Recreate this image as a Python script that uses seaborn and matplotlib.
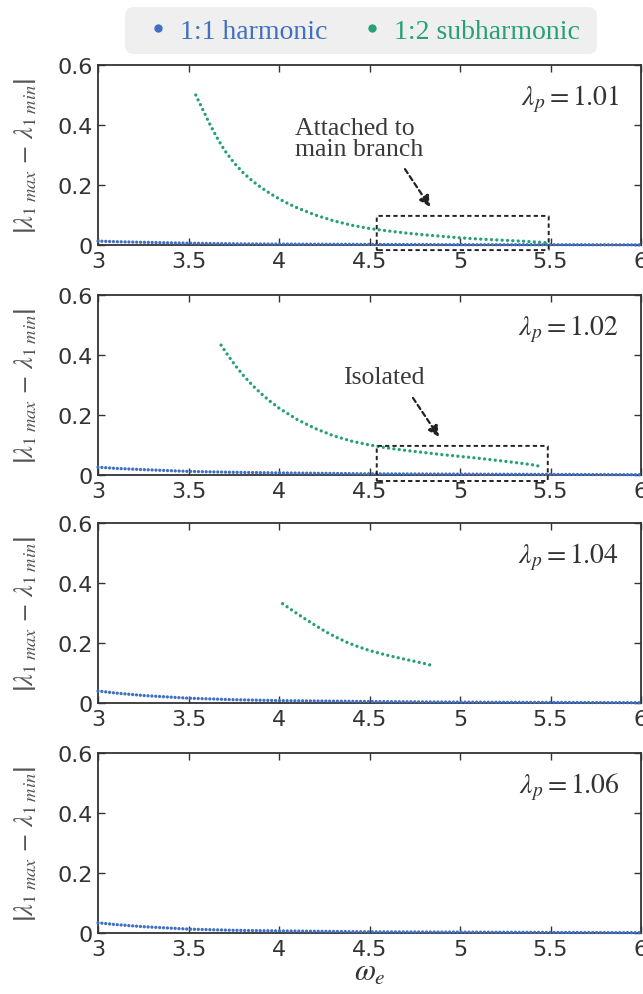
import matplotlib
matplotlib.use("Agg")
import matplotlib.pyplot as plt
import seaborn as sns
from matplotlib.patches import FancyBboxPatch
from matplotlib.lines import Line2D
from matplotlib.transforms import IdentityTransform

# ---- data ----
lambda_p = ["1.01", "1.02", "1.04", "1.06"]

# 1:1 harmonic branch (one per panel)
harm_x = [3.0, 3.1, 3.25, 3.5, 3.75, 4.0, 4.5, 5.0, 5.5, 6.0]
harm_y = [
    [0.013, 0.011, 0.009, 0.006, 0.004, 0.003, 0.002, 0.001, 0.001, 0.0005],
    [0.026, 0.022, 0.018, 0.012, 0.009, 0.007, 0.004, 0.003, 0.002, 0.001],
    [0.040, 0.033, 0.025, 0.016, 0.011, 0.008, 0.005, 0.003, 0.002, 0.001],
    [0.034, 0.028, 0.021, 0.013, 0.009, 0.007, 0.004, 0.003, 0.002, 0.001],
]

# 1:2 subharmonic branch (absent for lambda_p = 1.06)
sub_x = [
    [3.54, 3.58, 3.62, 3.66, 3.70, 3.75, 3.80, 3.85, 3.90, 3.95, 4.00, 4.05, 4.10,
     4.20, 4.30, 4.40, 4.50, 4.60, 4.70, 4.80, 4.90, 5.00, 5.10, 5.20, 5.30, 5.40,
     5.47],
    [3.68, 3.72, 3.76, 3.80, 3.85, 3.90, 3.95, 4.00, 4.10, 4.20, 4.30, 4.40,
     4.50, 4.60, 4.70, 4.80, 4.90, 5.00, 5.10, 5.20, 5.30, 5.40, 5.45],
    [4.02, 4.08, 4.14, 4.20, 4.26, 4.32, 4.38, 4.44, 4.50, 4.56, 4.62, 4.68,
     4.74, 4.80, 4.84],
    [],
]
sub_y = [
    [0.500, 0.450, 0.400, 0.355, 0.315, 0.275, 0.242, 0.215, 0.192, 0.172, 0.154,
     0.138, 0.124, 0.100, 0.081, 0.066, 0.055, 0.047, 0.040, 0.034, 0.029, 0.024,
     0.020, 0.017, 0.014, 0.011, 0.008],
    [0.433, 0.397, 0.364, 0.334, 0.301, 0.272, 0.246, 0.223, 0.185, 0.155, 0.131,
     0.113, 0.100, 0.090, 0.082, 0.075, 0.068, 0.062, 0.056, 0.049, 0.042, 0.034,
     0.028],
    [0.331, 0.306, 0.282, 0.259, 0.237, 0.218, 0.201, 0.187, 0.175, 0.165, 0.156,
     0.148, 0.140, 0.132, 0.126],
    [],
]

x_ticks = [3, 3.5, 4, 4.5, 5, 5.5, 6]
x_ticklabels = ["3", "3.5", "4", "4.5", "5", "5.5", "6"]
y_ticks = [0, 0.2, 0.4, 0.6]
y_ticklabels = ["0", "0.2", "0.4", "0.6"]

BLUE = "#4170c2"
GREEN = "#27a07a"
DARK = "#333333"

sns.set_theme(style="ticks")
plt.rcParams["font.family"] = ["Liberation Serif", "DejaVu Serif"]
plt.rcParams["mathtext.fontset"] = "stix"

fig = plt.figure(figsize=(6.43, 9.95), dpi=100)
W, H = 643, 995
tops = [66, 296, 524, 754]

axes = []
for i, top in enumerate(tops):
    ax = fig.add_axes([98 / W, 1 - (top + 180) / H, 543 / W, 180 / H])
    axes.append(ax)

    sns.lineplot(x=harm_x, y=harm_y[i], ax=ax, color=BLUE, linewidth=2.4,
                 linestyle=(0, (0.01, 1.15)), dash_capstyle="round",
                 clip_on=False, zorder=4)
    if sub_x[i]:
        sns.lineplot(x=sub_x[i], y=sub_y[i], ax=ax, color=GREEN, linewidth=2.4,
                     linestyle=(0, (0.01, 1.6)), dash_capstyle="round",
                     clip_on=False, zorder=4)

    ax.set_xlim(3, 6)
    ax.set_ylim(0, 0.6)
    ax.set_xticks(x_ticks)
    ax.set_xticklabels(x_ticklabels, fontfamily="DejaVu Sans", fontsize=16)
    ax.set_yticks(y_ticks)
    ax.set_yticklabels(y_ticklabels, fontfamily="DejaVu Sans", fontsize=16)
    ax.tick_params(direction="in", top=True, right=True, length=5, width=1,
                   colors=DARK, pad=4)
    for s in ax.spines.values():
        s.set_visible(True)
        s.set_color(DARK)
        s.set_linewidth(1.3)

    ax.set_xlabel("")
    ax.set_ylabel(r"$\left|\lambda_{\mathit{1\ max}}\ \mathrm{-}\ \lambda_{\mathit{1\ min}}\right|$",
                  fontsize=19, color="#555555")
    ax.yaxis.set_label_coords(-0.108, 0.5)

    ax.text(5.88, 0.49, r"$\lambda_p = \mathrm{" + lambda_p[i] + "}$",
            ha="right", va="center", fontsize=20, color=DARK)

axes[-1].set_xlabel(r"$\omega_e$", fontsize=22, color=DARK)
axes[-1].xaxis.set_label_coords(0.5, -0.14)

# annotations on the first two panels
box_kw = dict(boxstyle="round,pad=0,rounding_size=0.01", fill=False,
              edgecolor="#222222", linewidth=1.4, linestyle=(0, (2.2, 1.6)),
              clip_on=False, zorder=5, mutation_aspect=0.2)
axes[0].add_patch(FancyBboxPatch((4.54, -0.017), 0.95, 0.114, **box_kw))
axes[1].add_patch(FancyBboxPatch((4.54, -0.02), 0.945, 0.117, **box_kw))

arrow_kw = dict(arrowstyle="-|>", color="#222222", lw=1.6,
                linestyle=(0, (2.2, 1.6)), mutation_scale=16,
                shrinkA=0, shrinkB=0)
axes[0].annotate("", xy=(4.835, 0.127), xytext=(4.696, 0.253), arrowprops=arrow_kw)
axes[0].text(4.09, 0.355, "Attached to\nmain branch", ha="left", va="center",
             fontsize=18.5, color="#3a3a3a", linespacing=0.95)

axes[1].annotate("", xy=(4.884, 0.127), xytext=(4.74, 0.257), arrowprops=arrow_kw)
axes[1].text(4.58, 0.327, "Isolated", ha="center", va="center",
             fontsize=18.5, color="#3a3a3a")

# legend across the top, on a rounded light-grey panel
fig.add_artist(FancyBboxPatch((125, H - 55), 472, 47,
                              boxstyle="round,pad=0,rounding_size=9",
                              facecolor="#efefef", edgecolor="none",
                              transform=IdentityTransform()))
handles = [Line2D([], [], marker="o", ls="", color=BLUE, markersize=5),
           Line2D([], [], marker="o", ls="", color=GREEN, markersize=5)]
fig.legend(handles, ["1:1 harmonic", "1:2 subharmonic"], ncol=2,
           loc="center", bbox_to_anchor=(365 / W, 1 - 32 / H),
           frameon=False, fontsize=20, labelcolor=[BLUE, GREEN],
           handlelength=0.6, handletextpad=0.5, columnspacing=1.3)

fig.savefig("out.png", dpi=100)
